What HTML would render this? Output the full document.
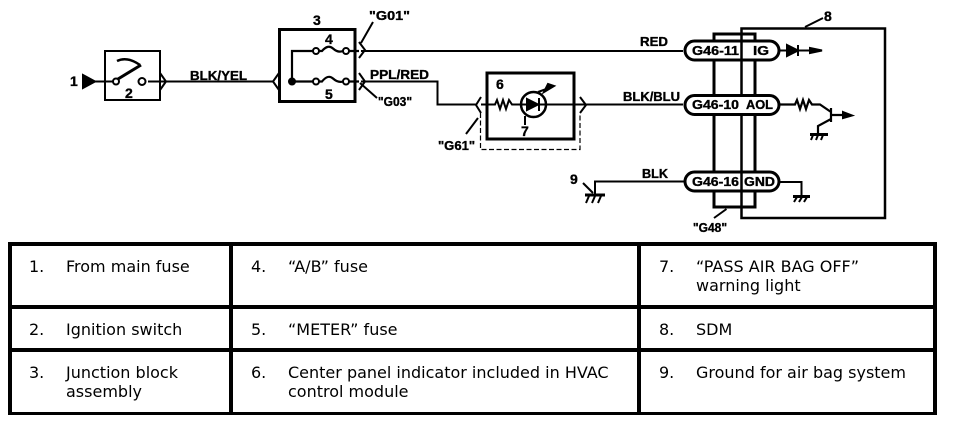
<!DOCTYPE html>
<html><head><meta charset="utf-8">
<style>
html,body{margin:0;padding:0;background:#fff;width:960px;height:422px;overflow:hidden}
svg{position:absolute;left:0;top:0}
.d{font-family:"Liberation Sans",sans-serif;font-weight:bold;font-size:12.5px;fill:#000;stroke:#000;stroke-width:.35}
.n{font-size:14px}
.t{font-family:"DejaVu Sans",sans-serif;font-size:16px;fill:#000}
</style></head><body>
<svg width="960" height="422" viewBox="0 0 960 422" xmlns="http://www.w3.org/2000/svg">
<g fill="none" stroke="#000" stroke-width="2">
<!-- switch -->
<rect x="105" y="51" width="55" height="49"/>
<path d="M83 75 L95 81.500 L83 88 Z" fill="#000"/>
<path d="M95 81.500H113M148 81.500H273"/>
<circle cx="116" cy="81.500" r="3" fill="#fff"/><circle cx="142" cy="81.500" r="3.500" fill="#fff"/>
<path d="M118 79 L141 65" stroke-width="3"/>
<path d="M117 61 Q127 56 140 65" stroke-width="2.500"/>
<path d="M160 73 L166 81.500 L160 90M279 73 L273 81.500 L279 90" stroke-width="2"/>
<!-- junction block -->
<rect x="279.500" y="29.500" width="75.500" height="72" stroke-width="3"/>
<path d="M292 81.500V51H313M319 51H322Q328 44 333 48.500T343 51M349 51H359M292 81.500H313M319 81.500H322Q328 74 333 78.500T343 81.500M349 81.500H359" stroke-width="2.200"/>
<circle cx="316" cy="51" r="3" fill="#fff"/><circle cx="346" cy="51" r="3" fill="#fff"/>
<circle cx="316" cy="81.500" r="3" fill="#fff"/><circle cx="346" cy="81.500" r="3" fill="#fff"/>
<circle cx="292" cy="81.500" r="3" fill="#000"/>
<path d="M359 42 L365 50 L359 58M359 73 L365 81.500 L359 90"/>
<path d="M361 43 L373 22M360 83 L377 98"/>
<path d="M361 51H683M361 81.500H437.500V104.500H476" stroke-width="2"/>
<path d="M481 97 L476 105 L481 113M580 97 L586 105 L580 113"/>
<path d="M478 118 L466 134"/>
<!-- indicator -->
<rect x="487" y="73" width="87" height="66" stroke-width="3"/>
<path d="M481 104.500H495L497 100 L500 109 L503 100 L506 109 L509 100 L512 104.500H574M574 104.500H683"/>
<circle cx="533.500" cy="104.500" r="12.500" stroke-width="2.500"/>
<path d="M527 99 L538 104.500 L527 110 Z" fill="#000"/><path d="M539 98V111"/>
<path d="M525 116V125"/>
<path d="M538 92 L552 87" stroke-width="2"/><path d="M544 92 L554 86 L548 84 Z" fill="#000"/>
<path d="M480.500 113V149.500H580V113" stroke-width="1.200" stroke-dasharray="5 2.500"/>
<!-- connector + SDM -->
<path d="M714 60V34H755V60M714 172V60M755 172V60M714 192V207H755V192" stroke-width="3"/>
<path d="M741.500 218V28.500H885V218Z" stroke-width="2.500"/>
<rect x="685" y="41" width="94" height="19" rx="9.500" fill="#fff" stroke-width="3"/>
<rect x="685" y="95.500" width="94" height="19" rx="9.500" fill="#fff" stroke-width="3"/>
<rect x="685" y="172" width="94" height="19" rx="9.500" fill="#fff" stroke-width="3"/>
<path d="M741.500 41V60M741.500 172V191" stroke-width="2.500"/>
<!-- IG output -->
<path d="M779 50.500H788M798 50.500H812"/>
<path d="M787 45 L798 50.500 L787 56 Z" fill="#000"/><path d="M798 45V56"/>
<path d="M810 48 L822 50.500 L810 53 Z" fill="#000"/>
<path d="M805 27 L823 18"/>
<!-- AOL output -->
<path d="M779 104.500H795L797 100 L800 109 L803 100 L806 109 L809 100 L812 104.500H820L831 112M831 108V122M831 115H845M831 119 L818 126V135" stroke-width="2.200"/>
<path d="M843 112 L852 115.500 L843 118 Z" fill="#000"/>
<path d="M810 134.500H828" stroke-width="3"/>
<path d="M813 135 L811 140M818 135 L816 140M823 135 L821 140" stroke-width="2"/>
<!-- ground -->
<path d="M685 181.500H595V194"/>
<path d="M585 195H605" stroke-width="3"/>
<path d="M589 196 L586 203M595 196 L592 203M601 196 L598 203" stroke-width="2"/>
<path d="M583 183 L593 193"/>
<path d="M779 182H801.500V195"/>
<path d="M793 196.500H810" stroke-width="3"/>
<path d="M797 197 L794 202M802 197 L799 202M807 197 L804 202" stroke-width="2"/>
<path d="M726.500 209 L714 218"/>
</g>
<g class="d">
<g class="n">
<text x="70" y="86">1</text>
<text x="125" y="98">2</text>
<text x="313" y="25">3</text>
<text x="325" y="44">4</text>
<text x="325" y="99">5</text>
<text x="496" y="89">6</text>
<text x="521" y="136">7</text>
<text x="824" y="21">8</text>
<text x="570" y="184">9</text>
</g>
<text x="190" y="80" textLength="57" lengthAdjust="spacingAndGlyphs">BLK/YEL</text>
<text x="369" y="20" textLength="41" lengthAdjust="spacingAndGlyphs">"G01"</text>
<text x="370" y="79" textLength="59" lengthAdjust="spacingAndGlyphs">PPL/RED</text>
<text x="378" y="106" textLength="34" lengthAdjust="spacingAndGlyphs">"G03"</text>
<text x="438" y="150" textLength="37" lengthAdjust="spacingAndGlyphs">"G61"</text>
<text x="640" y="46" textLength="28" lengthAdjust="spacingAndGlyphs">RED</text>
<text x="623" y="101" textLength="57" lengthAdjust="spacingAndGlyphs">BLK/BLU</text>
<text x="642" y="178" textLength="26" lengthAdjust="spacingAndGlyphs">BLK</text>
<text x="692" y="55" textLength="47" lengthAdjust="spacingAndGlyphs">G46-11</text>
<text x="753" y="55" textLength="16" lengthAdjust="spacingAndGlyphs">IG</text>
<text x="692" y="109" textLength="47" lengthAdjust="spacingAndGlyphs">G46-10</text>
<text x="746" y="109" textLength="27" lengthAdjust="spacingAndGlyphs">AOL</text>
<text x="692" y="186" textLength="47" lengthAdjust="spacingAndGlyphs">G46-16</text>
<text x="744" y="186" textLength="31" lengthAdjust="spacingAndGlyphs">GND</text>
<text x="693" y="232" textLength="34" lengthAdjust="spacingAndGlyphs">"G48"</text>
</g>
<!-- table -->
<g fill="#000">
<rect x="8" y="242" width="929" height="4"/>
<rect x="8" y="305" width="929" height="4"/>
<rect x="8" y="348" width="929" height="4"/>
<rect x="8" y="412" width="929" height="3"/>
<rect x="8" y="242" width="4" height="173"/>
<rect x="229" y="242" width="4" height="173"/>
<rect x="637" y="242" width="4" height="173"/>
<rect x="933" y="242" width="4" height="173"/>
</g>
<g class="t">
<text x="29" y="272">1.</text><text x="66" y="272">From main fuse</text>
<text x="29" y="335">2.</text><text x="66" y="335">Ignition switch</text>
<text x="29" y="378">3.</text><text x="66" y="378">Junction block</text><text x="66" y="397">assembly</text>
<text x="251" y="272">4.</text><text x="288" y="272">“A/B” fuse</text>
<text x="251" y="335">5.</text><text x="288" y="335">“METER” fuse</text>
<text x="251" y="378">6.</text><text x="288" y="378">Center panel indicator included in HVAC</text><text x="288" y="397">control module</text>
<text x="659" y="272">7.</text><text x="696" y="272">“PASS AIR BAG OFF”</text><text x="696" y="291">warning light</text>
<text x="659" y="335">8.</text><text x="696" y="335">SDM</text>
<text x="659" y="378">9.</text><text x="696" y="378">Ground for air bag system</text>
</g>
</svg>
</body></html>
